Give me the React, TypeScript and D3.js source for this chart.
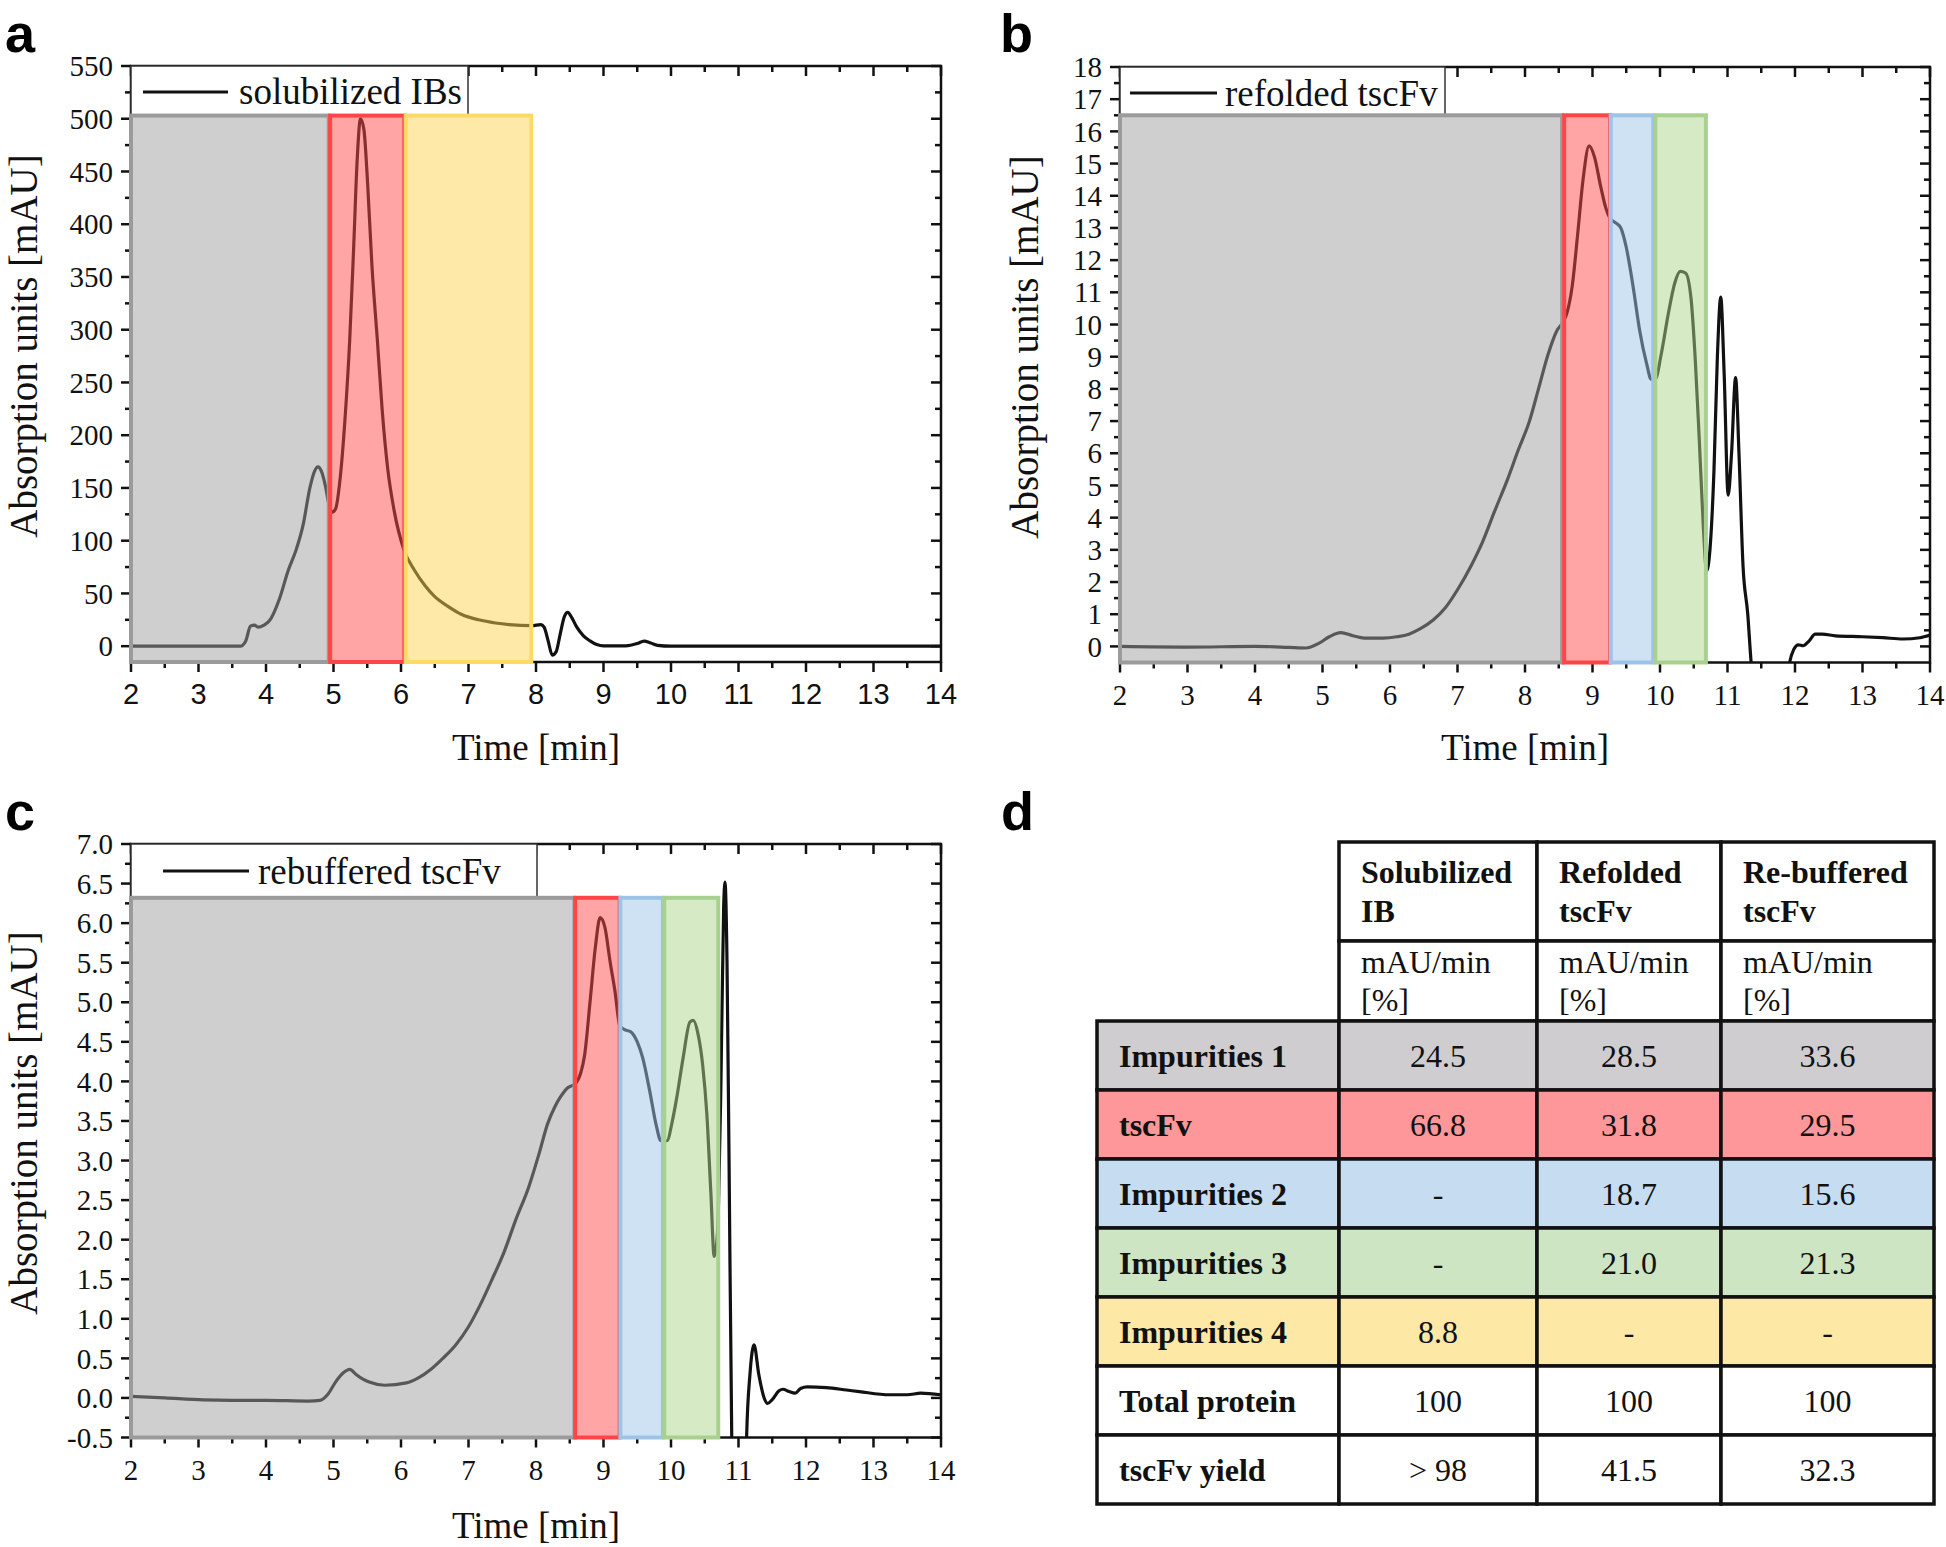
import React from 'react';
import * as d3 from 'd3';

// ---------- Panel a: solubilized IBs ----------
const timeA = [2.0, 3.0, 3.62, 3.7, 3.77, 3.83, 3.88, 3.97, 4.05, 4.2, 4.33, 4.45, 4.55, 4.65, 4.72, 4.77, 4.82, 4.88, 4.93, 4.98, 5.03, 5.1, 5.17, 5.24, 5.3, 5.35, 5.4, 5.45, 5.5, 5.57, 5.65, 5.72, 5.8, 5.9, 6.04, 6.2, 6.36, 6.5, 6.69, 6.9, 7.15, 7.4, 7.6, 7.94, 8.07, 8.12, 8.18, 8.24, 8.3, 8.36, 8.42, 8.47, 8.53, 8.6, 8.7, 8.8, 8.9, 9.0, 9.33, 9.5, 9.6, 9.7, 9.8, 10.0, 12.0, 14.0];
const absA = [0, 0, 0, 5, 19, 20, 18, 20, 24, 45, 72, 92, 115, 150, 166, 170, 166, 152, 135, 127, 130, 160, 215, 290, 380, 460, 500, 490, 445, 360, 290, 225, 170, 128, 92, 72, 57, 47, 38, 30, 25, 22, 20.5, 19.5, 20.5, 18, 5, -8.5, -5, 12, 28, 32, 27, 18.5, 10, 5, 1.5, 0.3, 0.3, 2.5, 4.8, 3, 0.8, 0, 0, 0];

// ---------- Panel b: refolded tscFv ----------
const timeB = [2.0, 3.0, 4.0, 4.5, 4.75, 4.95, 5.1, 5.27, 5.45, 5.62, 5.9, 6.1, 6.28, 6.45, 6.64, 6.82, 7.0, 7.2, 7.37, 7.55, 7.74, 7.9, 8.06, 8.2, 8.34, 8.47, 8.57, 8.62, 8.7, 8.78, 8.86, 8.95, 9.03, 9.12, 9.2, 9.26, 9.35, 9.42, 9.5, 9.6, 9.7, 9.8, 9.87, 9.93, 10.02, 10.12, 10.22, 10.3, 10.38, 10.46, 10.52, 10.58, 10.64, 10.69, 10.74, 10.8, 10.85, 10.9, 10.95, 11.01, 11.06, 11.12, 11.17, 11.23, 11.3, 11.35, 11.4, 11.85, 11.92, 11.98, 12.05, 12.12, 12.2, 12.3, 12.4, 12.6, 13.0, 13.3, 13.6, 13.85, 14.0];
const absB = [0.0, -0.02, 0.0, -0.03, -0.05, 0.1, 0.3, 0.43, 0.33, 0.26, 0.26, 0.3, 0.38, 0.55, 0.82, 1.2, 1.76, 2.5, 3.24, 4.2, 5.18, 6.1, 6.96, 8.0, 9.06, 9.8, 10.1, 10.35, 11.2, 12.8, 14.5, 15.55, 15.2, 14.3, 13.6, 13.3, 13.15, 13.0, 12.4, 11.2, 9.8, 8.8, 8.3, 8.3, 9.1, 10.3, 11.3, 11.65, 11.6, 10.8, 9.0, 6.5, 3.8, 2.35, 3.0, 5.5, 9.0, 10.85, 8.5, 4.7, 6.0, 8.35, 6.0, 2.5, 1.0, -0.5, -1.5, -1.5, -0.5, -0.1, 0.05, 0.02, 0.15, 0.38, 0.38, 0.33, 0.3, 0.27, 0.23, 0.27, 0.35];

// ---------- Panel c: rebuffered tscFv ----------
const timeC = [2.0, 2.5, 3.07, 3.5, 4.0, 4.63, 4.8, 4.92, 5.03, 5.15, 5.24, 5.33, 5.43, 5.53, 5.76, 6.08, 6.25, 6.44, 6.62, 6.81, 7.0, 7.17, 7.35, 7.53, 7.7, 7.89, 8.05, 8.17, 8.28, 8.36, 8.47, 8.58, 8.66, 8.72, 8.8, 8.88, 8.95, 9.02, 9.1, 9.17, 9.24, 9.32, 9.4, 9.5, 9.58, 9.68, 9.78, 9.85, 9.94, 10.02, 10.08, 10.18, 10.28, 10.33, 10.4, 10.47, 10.53, 10.59, 10.64, 10.67, 10.7, 10.74, 10.78, 10.8, 10.83, 10.86, 10.9, 10.93, 11.1, 11.12, 11.17, 11.23, 11.3, 11.38, 11.43, 11.5, 11.6, 11.66, 11.75, 11.84, 11.92, 12.02, 12.3, 12.6, 12.79, 13.24, 13.5, 13.7, 14.0];
const absC = [0.02, 0.0, -0.025, -0.03, -0.03, -0.04, -0.03, 0.05, 0.2, 0.32, 0.36, 0.3, 0.24, 0.2, 0.16, 0.19, 0.25, 0.36, 0.5, 0.67, 0.9, 1.17, 1.5, 1.85, 2.25, 2.66, 3.1, 3.46, 3.68, 3.8, 3.92, 3.97, 4.1, 4.33, 5.0, 5.7, 6.07, 5.95, 5.5, 5.14, 4.71, 4.65, 4.63, 4.5, 4.3, 3.9, 3.45, 3.25, 3.25, 3.5, 3.77, 4.3, 4.75, 4.77, 4.6, 4.2, 3.6, 2.6, 1.79, 1.9, 2.3, 4.0, 6.2, 6.52, 5.5, 3.0, -0.5, -1.5, -1.5, -0.5, 0.3, 0.67, 0.3, 0.0, -0.07, -0.02, 0.09, 0.11, 0.08, 0.06, 0.12, 0.14, 0.13, 0.1, 0.08, 0.04, 0.04, 0.06, 0.04];

// ---------- Fraction regions (retention time windows) ----------
const regionKeysA = ['imp1', 'tscfv', 'imp4'];
const regionStartA = [2.0, 4.95, 6.07];
const regionEndA = [4.93, 6.05, 7.93];
const regionTopA = 503;

const regionKeysB = ['imp1', 'tscfv', 'imp2', 'imp3'];
const regionStartB = [2.0, 8.58, 9.27, 9.93];
const regionEndB = [8.55, 9.26, 9.9, 10.68];
const regionTopB = 16.5;

const regionKeysC = ['imp1', 'tscfv', 'imp2', 'imp3'];
const regionStartC = [2.0, 8.58, 9.25, 9.9];
const regionEndC = [8.57, 9.24, 9.88, 10.7];
const regionTopC = 6.32;

// ---------- Table d ----------
const tableHeadLine1 = ['Solubilized', 'Refolded', 'Re-buffered'];
const tableHeadLine2 = ['IB', 'tscFv', 'tscFv'];
const tableUnitLine1 = 'mAU/min';
const tableUnitLine2 = '[%]';
const rowLabels = ['Impurities 1', 'tscFv', 'Impurities 2', 'Impurities 3', 'Impurities 4', 'Total protein', 'tscFv yield'];
const rowKeys = ['imp1', 'tscfv', 'imp2', 'imp3', 'imp4', 'none', 'none'];
const colSolubilizedIB = ['24.5', '66.8', '-', '-', '8.8', '100', '> 98'];
const colRefolded = ['28.5', '31.8', '18.7', '21.0', '-', '100', '41.5'];
const colRebuffered = ['33.6', '29.5', '15.6', '21.3', '-', '100', '32.3'];

// ---------- styles ----------
const SERIF = "'Liberation Serif', 'Times New Roman', Times, serif";
const SANS = "'Liberation Sans', Arial, Helvetica, sans-serif";
const NARROW = "'Liberation Sans Narrow', 'Arial Narrow', 'Liberation Sans', Arial, sans-serif";

const overlayFill: Record<string, string> = {
  imp1: '#a0a0a0', tscfv: '#ff4b4b', imp2: '#9fc5e7', imp3: '#add58d', imp4: '#ffd351',
};
const overlayStroke: Record<string, string> = {
  imp1: '#9b9b9b', tscfv: '#ff4545', imp2: '#9dc3e6', imp3: '#a9d18e', imp4: '#ffd966',
};
const tableFill: Record<string, string> = {
  imp1: '#cfcdcf', tscfv: '#fd9799', imp2: '#c6dcf0', imp3: '#cde5c3', imp4: '#fde8a6', none: '#ffffff',
};

type PanelCfg = {
  id: string;
  time: number[];
  abs: number[];
  x0: number; x1: number; yTop: number; yBot: number;
  yDomain: [number, number];
  yMajor: number[]; yMinor: number[];
  yFmt: (v: number) => string;
  keys: string[]; starts: number[]; ends: number[]; top: number;
  legendText: string;
  legendBox: { x1: number; y1: number; lx0: number; lx1: number; ly: number; tx: number; ty: number };
  yTitle: { x: number; y: number };
  xTitleY: number;
  xTickFont: string;
  letter: { t: string; x: number; y: number };
};

const xMajor = d3.range(2, 14.01, 1);
const xMinor = d3.range(2.5, 14, 1);

function Panel({ c }: { c: PanelCfg }) {
  const x = d3.scaleLinear().domain([2, 14]).range([c.x0, c.x1]);
  const y = d3.scaleLinear().domain(c.yDomain).range([c.yBot, c.yTop]);
  const line = d3
    .line<number>()
    .x((_, i) => x(c.time[i]))
    .y((d) => y(d))
    .curve(d3.curveMonotoneX);
  const clipId = `clip-${c.id}`;
  const tickW = 2.5;
  const majL = 10, minL = 6;
  return (
    <g>
      <defs>
        <clipPath id={clipId}>
          <rect x={c.x0} y={c.yTop} width={c.x1 - c.x0} height={c.yBot - c.yTop} />
        </clipPath>
      </defs>
      {/* curve */}
      <path d={line(c.abs) || ''} fill="none" stroke="#111" strokeWidth={3.2} clipPath={`url(#${clipId})`} strokeLinejoin="round" />
      {/* frame */}
      <rect x={c.x0} y={c.yTop} width={c.x1 - c.x0} height={c.yBot - c.yTop} fill="none" stroke="#111" strokeWidth={2.5} />
      {/* y ticks left (out) and right (in) */}
      {c.yMajor.map((v) => (
        <g key={'ym' + v}>
          <line x1={c.x0} x2={c.x0 - majL} y1={y(v)} y2={y(v)} stroke="#111" strokeWidth={tickW} />
          <line x1={c.x1} x2={c.x1 - majL} y1={y(v)} y2={y(v)} stroke="#111" strokeWidth={tickW} />
          <text x={c.x0 - 18} y={y(v)} dy="0.35em" textAnchor="end" fontFamily={SERIF} fontSize={29} fill="#111">
            {c.yFmt(v)}
          </text>
        </g>
      ))}
      {c.yMinor.map((v) => (
        <g key={'yn' + v}>
          <line x1={c.x0} x2={c.x0 - minL} y1={y(v)} y2={y(v)} stroke="#111" strokeWidth={tickW} />
          <line x1={c.x1} x2={c.x1 - minL} y1={y(v)} y2={y(v)} stroke="#111" strokeWidth={tickW} />
        </g>
      ))}
      {/* x ticks bottom (out) and top (in) */}
      {xMajor.map((v) => (
        <g key={'xm' + v}>
          <line x1={x(v)} x2={x(v)} y1={c.yBot} y2={c.yBot + majL} stroke="#111" strokeWidth={tickW} />
          <line x1={x(v)} x2={x(v)} y1={c.yTop} y2={c.yTop + majL} stroke="#111" strokeWidth={tickW} />
          <text x={x(v)} y={c.yBot + 42} textAnchor="middle" fontFamily={c.xTickFont} fontSize={29} fill="#111">
            {v}
          </text>
        </g>
      ))}
      {xMinor.map((v) => (
        <g key={'xn' + v}>
          <line x1={x(v)} x2={x(v)} y1={c.yBot} y2={c.yBot + minL} stroke="#111" strokeWidth={tickW} />
          <line x1={x(v)} x2={x(v)} y1={c.yTop} y2={c.yTop + minL} stroke="#111" strokeWidth={tickW} />
        </g>
      ))}
      {/* legend box */}
      <rect x={c.x0} y={c.yTop} width={c.legendBox.x1 - c.x0} height={c.legendBox.y1 - c.yTop} fill="#fff" stroke="#333" strokeWidth={1.5} />
      <line x1={c.legendBox.lx0} x2={c.legendBox.lx1} y1={c.legendBox.ly} y2={c.legendBox.ly} stroke="#111" strokeWidth={3.2} />
      <text x={c.legendBox.tx} y={c.legendBox.ty} fontFamily={SERIF} fontSize={37} fill="#111">
        {c.legendText}
      </text>
      {/* fraction overlays */}
      {c.keys.map((k, i) => (
        <rect
          key={'r' + i}
          x={x(c.starts[i])}
          y={y(c.top)}
          width={x(c.ends[i]) - x(c.starts[i])}
          height={c.yBot - y(c.top)}
          fill={overlayFill[k]}
          fillOpacity={0.5}
          stroke={overlayStroke[k]}
          strokeWidth={4}
        />
      ))}
      {/* axis titles */}
      <text
        transform={`translate(${c.yTitle.x},${c.yTitle.y}) rotate(-90)`}
        textAnchor="middle"
        fontFamily={SERIF}
        fontSize={39}
        fill="#111"
      >
        Absorption units [mAU]
      </text>
      <text x={(c.x0 + c.x1) / 2} y={c.xTitleY} textAnchor="middle" fontFamily={SERIF} fontSize={37} fill="#111">
        Time [min]
      </text>
      <text x={c.letter.x} y={c.letter.y} fontFamily={SANS} fontWeight="bold" fontSize={54} fill="#000">
        {c.letter.t}
      </text>
    </g>
  );
}

const panels: PanelCfg[] = [
  {
    id: 'a', time: timeA, abs: absA,
    x0: 131, x1: 941, yTop: 66, yBot: 662, yDomain: [-15, 550],
    yMajor: d3.range(0, 551, 50), yMinor: d3.range(25, 550, 50),
    yFmt: (v) => String(v),
    keys: regionKeysA, starts: regionStartA, ends: regionEndA, top: regionTopA,
    legendText: 'solubilized IBs',
    legendBox: { x1: 468, y1: 116, lx0: 143, lx1: 228, ly: 92, tx: 239, ty: 104 },
    yTitle: { x: 37, y: 346 }, xTitleY: 760, xTickFont: NARROW,
    letter: { t: 'a', x: 5, y: 52 },
  },
  {
    id: 'b', time: timeB, abs: absB,
    x0: 1120, x1: 1930, yTop: 67, yBot: 662.5, yDomain: [-0.5, 18],
    yMajor: d3.range(0, 18.01, 1), yMinor: d3.range(0.5, 18, 1),
    yFmt: (v) => String(v),
    keys: regionKeysB, starts: regionStartB, ends: regionEndB, top: regionTopB,
    legendText: 'refolded tscFv',
    legendBox: { x1: 1445, y1: 116, lx0: 1130, lx1: 1217, ly: 93, tx: 1225, ty: 106 },
    yTitle: { x: 1038, y: 347 }, xTitleY: 760, xTickFont: SERIF,
    letter: { t: 'b', x: 1000, y: 52 },
  },
  {
    id: 'c', time: timeC, abs: absC,
    x0: 131, x1: 941, yTop: 844, yBot: 1437.5, yDomain: [-0.5, 7],
    yMajor: d3.range(-0.5, 7.01, 0.5), yMinor: d3.range(-0.25, 7, 0.5),
    yFmt: (v) => v.toFixed(1),
    keys: regionKeysC, starts: regionStartC, ends: regionEndC, top: regionTopC,
    legendText: 'rebuffered tscFv',
    legendBox: { x1: 537, y1: 898, lx0: 163, lx1: 249, ly: 871, tx: 258, ty: 884 },
    yTitle: { x: 37, y: 1123 }, xTitleY: 1538, xTickFont: SERIF,
    letter: { t: 'c', x: 5, y: 830 },
  },
];

function Table() {
  const colX = [1097, 1339, 1537, 1721, 1934];
  const headTop = 842, head1Bot = 941, headBot = 1021;
  const rowH = (1504 - headBot) / rowLabels.length;
  const rowY = d3.range(rowLabels.length + 1).map((i) => headBot + i * rowH);
  const cols = [colSolubilizedIB, colRefolded, colRebuffered];
  const bw = 3.5;
  const fs = 32;
  return (
    <g>
      {/* header cells */}
      {[0, 1, 2].map((j) => (
        <g key={'h' + j}>
          <rect x={colX[j + 1]} y={headTop} width={colX[j + 2] - colX[j + 1]} height={head1Bot - headTop} fill="#fff" stroke="#111" strokeWidth={bw} />
          <rect x={colX[j + 1]} y={head1Bot} width={colX[j + 2] - colX[j + 1]} height={headBot - head1Bot} fill="#fff" stroke="#111" strokeWidth={bw} />
          <text x={colX[j + 1] + 22} y={883} fontFamily={SERIF} fontWeight="bold" fontSize={fs} fill="#111">{tableHeadLine1[j]}</text>
          <text x={colX[j + 1] + 22} y={922} fontFamily={SERIF} fontWeight="bold" fontSize={fs} fill="#111">{tableHeadLine2[j]}</text>
          <text x={colX[j + 1] + 22} y={973} fontFamily={SERIF} fontSize={fs} fill="#111">{tableUnitLine1}</text>
          <text x={colX[j + 1] + 22} y={1011} fontFamily={SERIF} fontSize={fs} fill="#111">{tableUnitLine2}</text>
        </g>
      ))}
      {/* body */}
      {rowLabels.map((lab, i) => (
        <g key={'r' + i}>
          {[0, 1, 2, 3].map((j) => (
            <rect key={j} x={colX[j]} y={rowY[i]} width={colX[j + 1] - colX[j]} height={rowH} fill={tableFill[rowKeys[i]]} stroke="#111" strokeWidth={bw} />
          ))}
          <text x={colX[0] + 22} y={rowY[i] + 46} fontFamily={SERIF} fontWeight="bold" fontSize={fs} fill="#111">{lab}</text>
          {cols.map((col, j) => (
            <text key={'v' + j} x={(colX[j + 1] + colX[j + 2]) / 2} y={rowY[i] + 46} textAnchor="middle" fontFamily={SERIF} fontSize={fs} fill="#111">
              {col[i]}
            </text>
          ))}
        </g>
      ))}
      <text x={1001} y={830} fontFamily={SANS} fontWeight="bold" fontSize={54} fill="#000">d</text>
    </g>
  );
}

export default function App() {
  return (
    <svg
      width={1946}
      height={1547}
      viewBox="0 0 1946 1547"
      style={{ position: 'absolute', left: 0, top: 0, background: '#fff' }}
    >
      <rect x={0} y={0} width={1946} height={1547} fill="#fff" />
      {panels.map((p) => (
        <Panel key={p.id} c={p} />
      ))}
      <Table />
    </svg>
  );
}
